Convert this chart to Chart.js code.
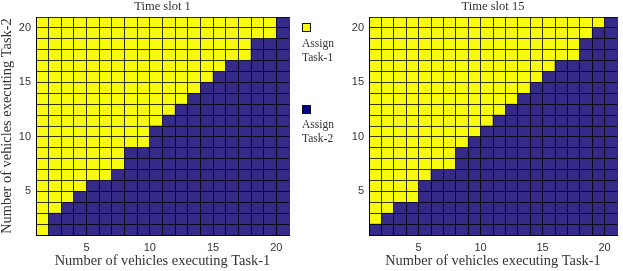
<!DOCTYPE html>
<html>
<head>
<meta charset="utf-8">
<script src="https://cdn.jsdelivr.net/npm/chart.js@4.4.0/dist/chart.umd.min.js"></script>
<style>
html,body{margin:0;padding:0;background:#fff;width:623px;height:271px;overflow:hidden;}
.wrap{position:absolute;top:0;height:271px;}
.legtxt{position:absolute;left:302px;font-family:"Liberation Serif",serif;font-size:11.5px;color:#333;line-height:13.5px;white-space:nowrap;}
.sq{position:absolute;left:302px;width:9px;height:9px;box-sizing:border-box;border:1px solid #111;}
</style>
</head>
<body>
<div class="wrap" style="left:0;width:300px;"><canvas id="c1" width="300" height="271"></canvas></div>
<div class="wrap" style="left:333px;width:290px;"><canvas id="c2" width="290" height="271"></canvas></div>

<div class="sq" style="top:23px;background:#f9fb0e;"></div>
<div class="legtxt" style="top:37px;">Assign<br>Task-1</div>
<div class="sq" style="top:105px;background:#00008b;"></div>
<div class="legtxt" style="top:118px;">Assign<br>Task-2</div>

<script>
// ---- data ----
const columns = [1,2,3,4,5,6,7,8,9,10,11,12,13,14,15,16,17,18,19,20];   // vehicles executing Task-1 (cell lower edge)
const rows    = [1,2,3,4,5,6,7,8,9,10,11,12,13,14,15,16,17,18,19,20];   // vehicles executing Task-2 (cell lower edge)
// number of cells (from the bottom) assigned Task-2 in each column
const task2CellsSlot1  = [0,2,3,4,5,5,6,8,8,10,11,12,13,14,15,16,16,18,18,20];
const task2CellsSlot15 = [1,2,3,3,5,6,6,8,9,10,11,12,13,14,15,16,16,18,19,20];
const xTickLabels = [5,10,15,20];
const yTickLabels = [5,10,15,20];
const titles = ['Time slot 1','Time slot 15'];

const YELLOW = '#f9fb0e';
const BLUE = '#352a87';
const TXT = '#333';
const GRID = 'rgba(0,0,0,0.8)';

function buildDatasets(task2Cells){
  return rows.map(r => ({
    data: columns.map(c => ({x: c + 0.5, y: [r, r + 1]})),
    backgroundColor: columns.map((c, i) => task2Cells[i] >= r ? BLUE : YELLOW),
    borderWidth: 0,
    grouped: false,
    barPercentage: 1,
    categoryPercentage: 1
  }));
}

function makeChart(id, task2Cells, title, showYTitle, padRight){
  return new Chart(document.getElementById(id), {
    type: 'bar',
    data: { datasets: buildDatasets(task2Cells) },
    options: {
      responsive: false,
      animation: false,
      devicePixelRatio: 1,
      events: [],
      layout: { padding: { left: 0, right: padRight, top: 0, bottom: 0 } },
      plugins: {
        legend: { display: false },
        tooltip: { enabled: false },
        title: {
          display: true, text: title, fullSize: false, color: TXT,
          font: { family: 'Liberation Serif', size: 12.5, weight: 'normal', lineHeight: 1 },
          padding: { top: 0, bottom: 4.5 }
        }
      },
      scales: {
        x: {
          type: 'linear', min: 1, max: 21, offset: false,
          grid: { offset: false, color: GRID, lineWidth: 1, drawTicks: false, z: 1 },
          border: { display: true, color: '#000', width: 1, z: 1 },
          ticks: {
            stepSize: 1, autoSkip: false, maxRotation: 0, padding: 6, color: TXT,
            font: { family: 'Liberation Sans', size: 11 },
            callback: v => xTickLabels.includes(v) ? String(v) : ''
          },
          title: {
            display: true, text: 'Number of vehicles executing Task-1', color: TXT,
            font: { family: 'Liberation Serif', size: 14.4, lineHeight: 1 },
            padding: { top: 0, bottom: 3 }
          },
          afterFit: s => { s.height = 36; }
        },
        y: {
          type: 'linear', min: 1, max: 21, beginAtZero: false,
          grid: { color: GRID, lineWidth: 1, drawTicks: false, z: 1 },
          border: { display: true, color: '#000', width: 1, z: 1 },
          ticks: {
            stepSize: 1, autoSkip: false, padding: 5, color: TXT,
            font: { family: 'Liberation Sans', size: 11 },
            callback: v => yTickLabels.includes(v) ? String(v) : ''
          },
          title: {
            display: showYTitle, text: 'Number of vehicles executing Task-2', color: TXT,
            font: { family: 'Liberation Serif', size: 14.4, lineHeight: 1 },
            padding: { top: 0, bottom: 0 }
          },
          afterFit: s => { s.width = 36; }
        }
      }
    }
  });
}

makeChart('c1', task2CellsSlot1, titles[0], true, 11);
makeChart('c2', task2CellsSlot15, titles[1], false, 2);
</script>
</body>
</html>
